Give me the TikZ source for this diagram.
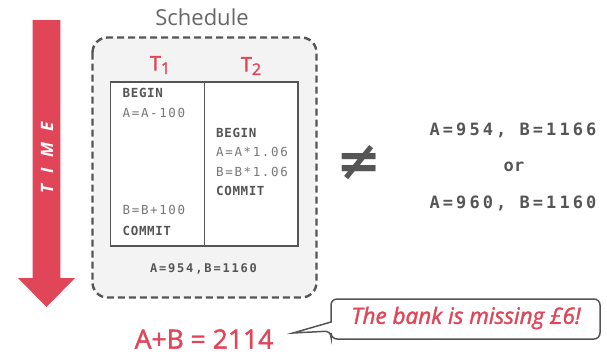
\documentclass[tikz,border=0pt]{standalone}
\usepackage{fontspec}
\setmainfont{Open Sans}
\newfontfamily\semi[FakeBold=1.6]{Open Sans}
\newfontfamily\dvsans{DejaVu Sans}
\newfontfamily\codeplain[LetterSpace=13]{DejaVu Sans Mono}
\newfontfamily\codebold[LetterSpace=5]{DejaVu Sans Mono Bold}
\newfontfamily\codewide[LetterSpace=15]{DejaVu Sans Mono Bold}
\newfontfamily\codebig[LetterSpace=18]{DejaVu Sans Mono Bold}
\newfontfamily\codeor[LetterSpace=3]{DejaVu Sans Mono Bold}
\newfontfamily\timefont[LetterSpace=65]{Open Sans Bold Italic}
\definecolor{hotred}{RGB}{224,69,88}
\definecolor{ink}{RGB}{85,85,85}
\definecolor{softink}{RGB}{120,120,120}
\definecolor{panel}{RGB}{243,243,243}
\begin{document}
\begin{tikzpicture}[x=1pt,y=-1pt,
  op/.style={anchor=west,inner sep=0pt,text=softink,font=\codeplain\fontsize{12.5}{14}\selectfont},
  kw/.style={anchor=west,inner sep=0pt,text=ink,font=\codebold\fontsize{12.5}{14}\selectfont},
  txhead/.style={inner sep=0pt,text=hotred,font=\semi\fontsize{20}{22}\selectfont},
  result/.style={inner sep=0pt,text=ink,font=\codebig\fontsize{17}{20}\selectfont}]
\useasboundingbox (0,0) rectangle (607,354);

% time arrow
\fill[hotred] (32.7,20) -- (60.3,20) -- (60.3,278) -- (75,278) -- (46.5,307)
  -- (18,278) -- (32.7,278) -- cycle;
\node[rotate=90,text=white,inner sep=0pt,font=\timefont\fontsize{17}{18}\selectfont]
  (time) at (47,158) {TIME};

% schedule panel
\node[text=ink!90,inner sep=0pt,font=\fontsize{22}{24}\selectfont] (title) at (202,17) {Schedule};
\draw[ink,line width=2.4pt,dash pattern=on 7pt off 4pt,fill=panel,rounded corners=15pt]
  (92.5,37.5) rectangle (316.5,297.5);
\node[txhead] (t1) at (160,65) {T\raisebox{-3.5pt}{\fontsize{16}{16}\selectfont 1}};
\node[txhead] (t2) at (251,66) {T\raisebox{-3.5pt}{\fontsize{16}{16}\selectfont 2}};

% transaction table
\draw[ink,line width=1.5pt,fill=white] (110.5,82) rectangle (298,246);
\draw[ink,line width=1.5pt] (204.3,82) -- (204.3,246);
\node[kw] (b1) at (122.5,93) {BEGIN};
\node[op] (a1) at (122.5,112.5) {A=A-100};
\node[op] (c1) at (122.5,209.5) {B=B+100};
\node[kw] (e1) at (122.5,231) {COMMIT};
\node[kw] (b2) at (216,132.5) {BEGIN};
\node[op] (a2) at (216,151.5) {A=A*1.06};
\node[op] (c2) at (216,171.5) {B=B*1.06};
\node[kw] (e2) at (216,190.5) {COMMIT};
\node[inner sep=0pt,text=ink,font=\codewide\fontsize{12}{14}\selectfont] (final) at (203.5,269) {A=954,\,B=1160};

% comparison
\node[inner sep=0pt,text=ink,font=\dvsans\bfseries\fontsize{54}{56}\selectfont] (neq) at (359,163) {≠};
\node[result] (r1) at (513,130) {A=954, B=1166};
\node[inner sep=0pt,text=ink,font=\codeor\fontsize{17}{20}\selectfont] (r2) at (514,167) {or};
\node[result] (r3) at (513,203) {A=960, B=1160};

% sum and callout
\node[inner sep=0pt,text=hotred,font=\semi\fontsize{26.5}{28}\selectfont] (sum) at (204,339) {A+B = 2114};
\coordinate (tip) at (293,333);
\draw[ink,line width=1.5pt,fill=white,rounded corners=6pt]
  (331,299) -- (600,299) -- (600,339) -- (331,339) -- (331,331) [sharp corners] -- (tip) -- (331,322) [rounded corners=6pt] -- cycle;
\node[inner sep=0pt,text=hotred,font=\semi\itshape\fontsize{22.5}{24}\selectfont] (note) at (466,318) {The bank is missing £6!};
\end{tikzpicture}
\end{document}
